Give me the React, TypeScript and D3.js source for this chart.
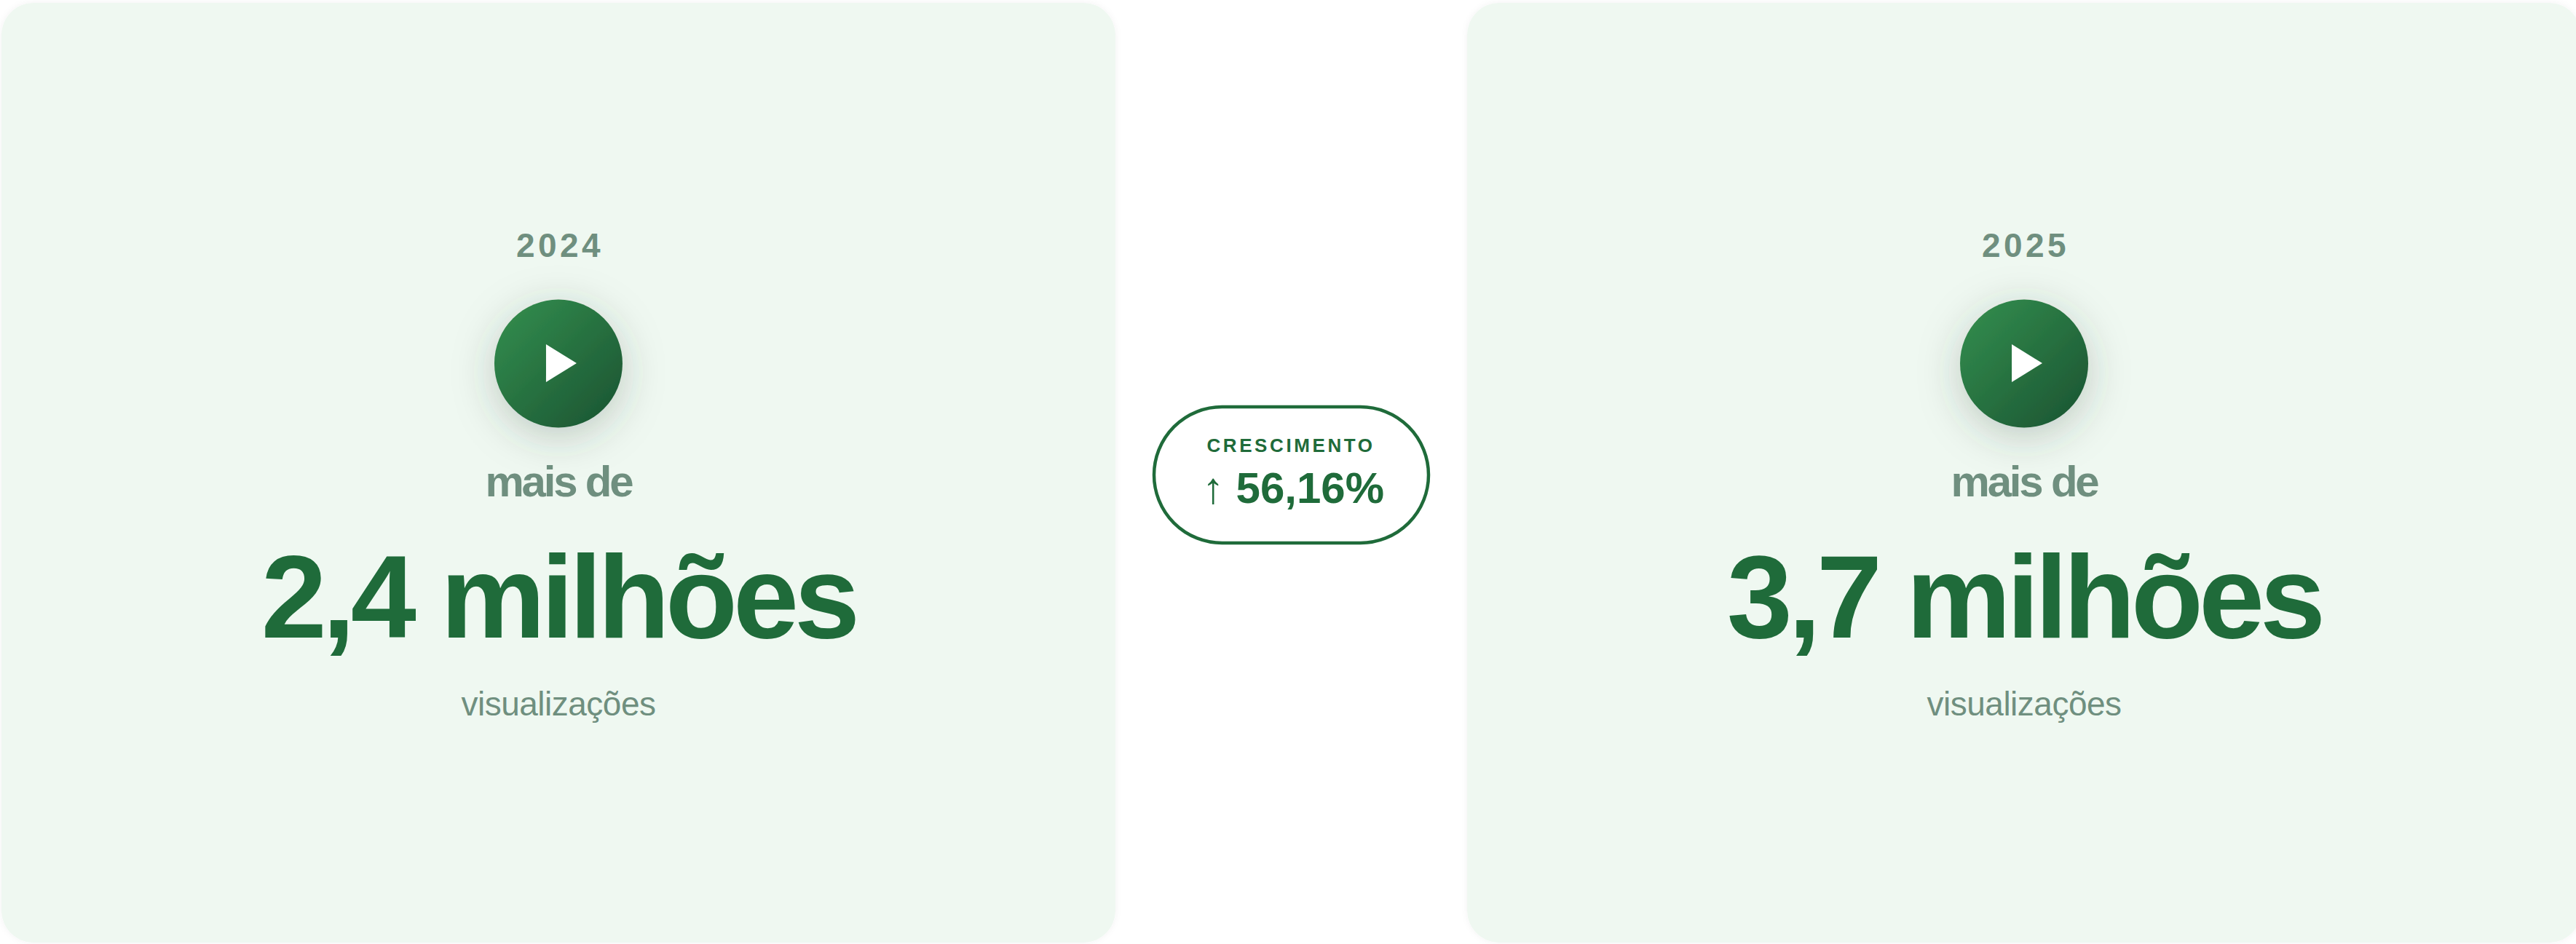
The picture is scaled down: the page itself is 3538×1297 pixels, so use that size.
import { useRef, useEffect } from 'react';
import * as d3 from 'd3';

const WIDTH = 3538;
const HEIGHT = 1297;

const years = ['2024', '2025'];
const amounts = ['2,4 milhões', '3,7 milhões'];
const prefix = 'mais de';
const unit = 'visualizações';
const growthLabel = 'CRESCIMENTO';
const growthValue = '56,16%';

const FONT = '"Liberation Sans", Arial, sans-serif';
const DARK = '#1f6b3a';
const MUTED = '#6f8f7f';

function App() {
    const ref = useRef<SVGSVGElement>(null);

    useEffect(() => {
        const svg = d3.select(ref.current);
        svg.selectAll('*').remove();

        const cardX = d3.scaleBand<string>().domain(years).range([2, 3545]).paddingInner(0.24).paddingOuter(0);

        const defs = svg.append('defs');
        const grad = defs.append('linearGradient').attr('id', 'playGrad')
            .attr('x1', '0%').attr('y1', '0%').attr('x2', '100%').attr('y2', '100%');
        grad.append('stop').attr('offset', '0%').attr('stop-color', '#34904f');
        grad.append('stop').attr('offset', '100%').attr('stop-color', '#1a5231');

        const glow = defs.append('filter').attr('id', 'playShadow')
            .attr('x', '-60%').attr('y', '-60%').attr('width', '220%').attr('height', '220%');
        glow.append('feDropShadow').attr('dx', 0).attr('dy', 12).attr('stdDeviation', 28)
            .attr('flood-color', '#2a4a38').attr('flood-opacity', 0.26);

        const cardShadow = defs.append('filter').attr('id', 'cardShadow')
            .attr('x', '-3%').attr('y', '-3%').attr('width', '106%').attr('height', '106%');
        cardShadow.append('feDropShadow').attr('dx', 0).attr('dy', 0).attr('stdDeviation', 4)
            .attr('flood-color', '#000').attr('flood-opacity', 0.05);

        const card = svg.selectAll('g.card')
            .data(years)
            .enter()
            .append('g')
            .attr('class', 'card')
            .attr('transform', d => `translate(${cardX(d)}, 0)`);

        const w = cardX.bandwidth();
        const cx = w / 2;

        card.append('rect')
            .attr('y', 4)
            .attr('width', w)
            .attr('height', 1291)
            .attr('rx', 44)
            .attr('fill', '#eff8f1')
            .attr('filter', 'url(#cardShadow)');

        card.append('text')
            .attr('x', cx + 2)
            .attr('y', 353)
            .attr('text-anchor', 'middle')
            .attr('font-weight', 700)
            .attr('font-size', 46)
            .attr('letter-spacing', 4.4)
            .attr('fill', MUTED)
            .text(d => d);

        card.append('circle')
            .attr('cx', cx)
            .attr('cy', 499.5)
            .attr('r', 88)
            .attr('fill', 'url(#playGrad)')
            .attr('filter', 'url(#playShadow)');

        const play = d3.line();
        card.append('path')
            .attr('d', play([[cx - 17, 473], [cx + 25, 499], [cx - 17, 525]]))
            .attr('fill', '#fff');

        card.append('text')
            .attr('x', cx)
            .attr('y', 682)
            .attr('text-anchor', 'middle')
            .attr('font-weight', 700)
            .attr('font-size', 60)
            .attr('letter-spacing', -3.2)
            .attr('fill', MUTED)
            .text(prefix);

        card.append('text')
            .attr('x', cx)
            .attr('y', 876)
            .attr('text-anchor', 'middle')
            .attr('font-weight', 700)
            .attr('font-size', 162)
            .attr('letter-spacing', -6)
            .attr('fill', DARK)
            .text((d, i) => amounts[i]);

        card.append('text')
            .attr('x', cx)
            .attr('y', 983)
            .attr('text-anchor', 'middle')
            .attr('font-size', 46)
            .attr('letter-spacing', -0.5)
            .attr('fill', MUTED)
            .text(unit);

        svg.append('rect')
            .attr('x', 1585)
            .attr('y', 559)
            .attr('width', 377)
            .attr('height', 187)
            .attr('rx', 93.5)
            .attr('fill', '#fff')
            .attr('stroke', DARK)
            .attr('stroke-width', 4.5);

        svg.append('text')
            .attr('x', 1773)
            .attr('y', 621)
            .attr('text-anchor', 'middle')
            .attr('font-weight', 700)
            .attr('font-size', 26)
            .attr('letter-spacing', 3.6)
            .attr('fill', DARK)
            .text(growthLabel);

        const growth = svg.append('text')
            .attr('x', 1776)
            .attr('y', 691)
            .attr('text-anchor', 'middle')
            .attr('fill', DARK)
            .attr('font-size', 60);
        growth.append('tspan').text('↑ ');
        growth.append('tspan').attr('font-weight', 700).text(growthValue);

        svg.selectAll('text').attr('font-family', FONT);
    }, []);

    return (
        <svg
            ref={ref}
            width={WIDTH}
            height={HEIGHT}
            viewBox={`0 0 ${WIDTH} ${HEIGHT}`}
            style={{ position: 'absolute', left: 0, top: 0, background: '#fff' }}
        />
    );
}

export default App;
